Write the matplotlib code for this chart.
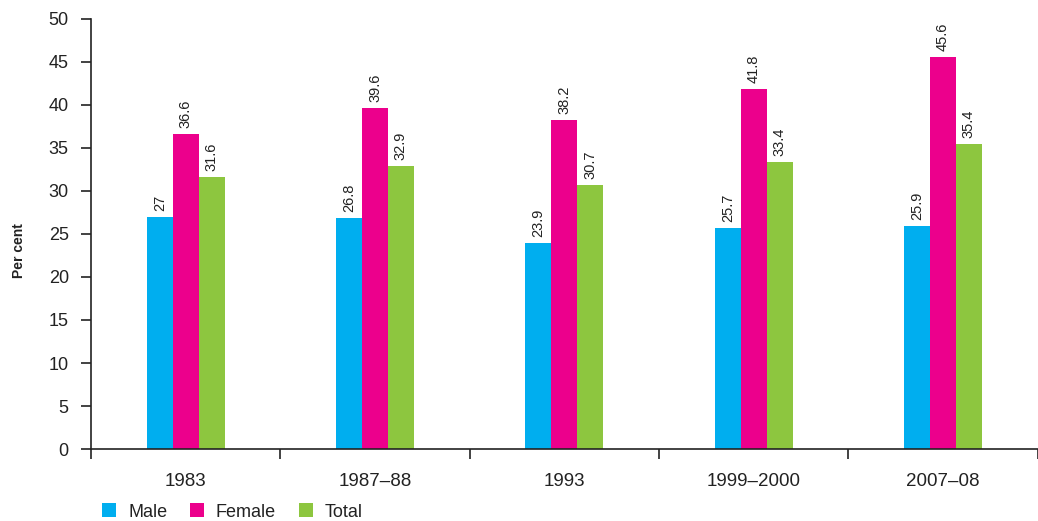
import matplotlib
matplotlib.use("Agg")
import matplotlib.pyplot as plt
import numpy as np
from matplotlib.patches import Patch

plt.rcParams['font.family'] = ['Liberation Sans', 'DejaVu Sans']

categories = ["1983", "1987\u201388", "1993", "1999\u20132000", "2007\u201308"]
male = [27, 26.8, 23.9, 25.7, 25.9]
female = [36.6, 39.6, 38.2, 41.8, 45.6]
total = [31.6, 32.9, 30.7, 33.4, 35.4]
value_labels = {
    "Male": ["27", "26.8", "23.9", "25.7", "25.9"],
    "Female": ["36.6", "39.6", "38.2", "41.8", "45.6"],
    "Total": ["31.6", "32.9", "30.7", "33.4", "35.4"],
}
colors = {"Male": "#00AEEF", "Female": "#EC008C", "Total": "#8DC63F"}
txt = '#222222'

fig = plt.figure(figsize=(10.38, 5.21), dpi=100)
ax = fig.add_axes([0.0877, 0.138, 0.912, 0.826])

x = np.arange(len(categories))
w = 0.137
series = [("Male", male, -w), ("Female", female, 0), ("Total", total, w)]
for name, vals, off in series:
    bars = ax.bar(x + off, vals, width=w, color=colors[name], edgecolor='none')
    for b, lab in zip(bars, value_labels[name]):
        ax.text(b.get_x() + b.get_width() / 2, b.get_height() + 0.7, lab,
                rotation=90, ha='center', va='bottom', fontsize=10.5, color=txt)

ax.set_xlim(-0.5, len(categories) - 0.5)
ax.set_ylim(0, 50)
ax.set_yticks(np.arange(0, 51, 5))
ax.tick_params(axis='y', labelsize=13, length=7, width=1.2, direction='out', pad=9, colors=txt)
ax.set_xticks(np.arange(-0.5, len(categories), 1.0))
ax.set_xticklabels([])
ax.set_xticks(x, minor=True)
ax.set_xticklabels(categories, minor=True)
ax.tick_params(axis='x', which='major', length=7, width=1.2, direction='out', colors=txt)
ax.tick_params(axis='x', which='minor', length=0, labelsize=13.5, pad=17, colors=txt)

for s in ['top', 'right']:
    ax.spines[s].set_visible(False)
for s in ['left', 'bottom']:
    ax.spines[s].set_linewidth(1.2)
    ax.spines[s].set_color(txt)

fig.text(19 / 1038, 1 - 251 / 521, "Per cent", rotation=90, ha='center', va='center',
         fontsize=10, fontweight='bold', color=txt)

handles = [Patch(facecolor=colors[n], edgecolor='none') for n in ["Male", "Female", "Total"]]
fig.legend(handles, ["Male", "Female", "Total"], loc='center left',
           bbox_to_anchor=(0.0825, 1 - 512 / 521),
           ncol=3, frameon=False, fontsize=13, handlelength=0.8, handleheight=0.8,
           handletextpad=0.65, columnspacing=1.25, labelcolor=txt)

fig.savefig("out.png", dpi=100)
